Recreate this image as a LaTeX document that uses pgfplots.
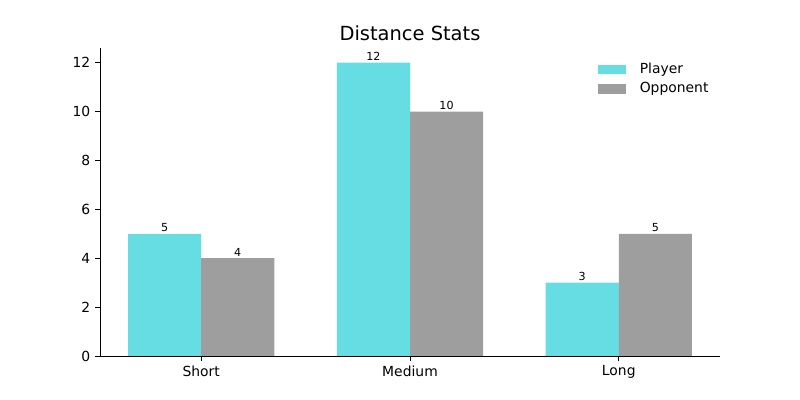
\documentclass[border=0pt]{standalone}
\usepackage{pgfplots}
\pgfplotsset{compat=1.18}
\usepackage{fontspec}
\setmainfont{DejaVu Sans}
\definecolor{cplayer}{HTML}{66DDE3}
\definecolor{copp}{HTML}{9E9E9E}
\begin{document}
\begin{tikzpicture}
\useasboundingbox (0,0) rectangle (576pt,288pt);
\begin{axis}[
  at={(72pt,31.68pt)}, anchor=south west,
  scale only axis, width=446.4pt, height=221.76pt,
  xmin=-0.485, xmax=2.485, ymin=0, ymax=12.6,
  xtick={0,1,2}, xticklabels={Short,Medium,Long},
  ytick={0,2,4,6,8,10,12},
  axis x line*=bottom, axis y line*=left,
  axis line style={line width=0.6pt},
  tick style={black, line width=0.6pt},
  major tick length=3.5pt,
  tick align=outside,
  xtick pos=bottom, ytick pos=left,
  tick label style={font=\fontsize{10}{12}\selectfont},
  /pgf/number format/assume math mode=true,
  title={Distance Stats},
  title style={font=\fontsize{14}{16}\selectfont, yshift=-4.5pt},
  ybar, bar width=0.35,
  nodes near coords,
  every node near coord/.append style={font=\fontsize{8}{9}\selectfont, black, yshift=-2pt},
  legend style={draw=none, fill=none, at={(0.993,0.97)}, anchor=north east, font=\fontsize{10}{12}\selectfont, row sep=1pt},
  legend cell align=left,
  legend image code/.code={\fill[#1] (0pt,-3.5pt) rectangle (20pt,3.5pt); \path (28pt,0);},
]
\addplot[fill=cplayer, draw=none, bar shift=-0.175] coordinates {(0,5) (1,12) (2,3)};
\addplot[fill=copp, draw=none, bar shift=0.175] coordinates {(0,4) (1,10) (2,5)};
\legend{Player,Opponent}
\end{axis}
\end{tikzpicture}
\end{document}
